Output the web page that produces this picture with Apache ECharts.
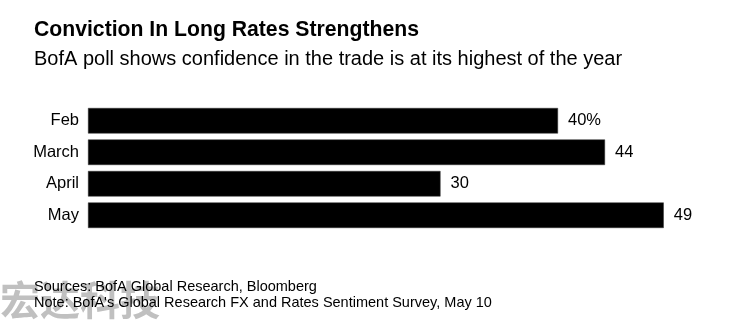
<!DOCTYPE html>
<html><head><meta charset="utf-8">
<script src="https://cdn.jsdelivr.net/npm/echarts@6/dist/echarts.min.js"></script>
<style>html,body{margin:0;padding:0;background:#fff}#c{width:755px;height:324px}</style>
</head><body><div id="c"></div>
<script>
const categories = ['Feb', 'March', 'April', 'May'];
const values = [40, 44, 30, 49];
const valueLabels = ['40%', '44', '30', '49'];
const titleText = 'Conviction In Long Rates Strengthens';
const subtitleText = 'BofA poll shows confidence in the trade is at its highest of the year';
const footerLines = ['Sources: BofA Global Research, Bloomberg', "Note: BofA's Global Research FX and Rates Sentiment Survey, May 10"];

const chart = echarts.init(document.getElementById('c'), null, {renderer: 'canvas'});
const F = '"Liberation Sans", Arial, sans-serif';
chart.setOption({
  animation: false,
  grid: {left: 88, top: 105, width: 587.5, height: 126},
  xAxis: {type: 'value', min: 0, max: 50, show: false},
  yAxis: {
    type: 'category', data: categories, inverse: true,
    axisLine: {show: false}, axisTick: {show: false},
    axisLabel: {color: '#000', fontFamily: F, fontSize: 16.5, margin: 9}
  },
  series: [{
    type: 'bar', data: values, barCategoryGap: '19%',
    itemStyle: {color: '#000', borderColor: '#333', borderWidth: 0.5},
    label: {show: true, position: 'right', distance: 10, color: '#000', fontFamily: F, fontSize: 16.5,
      formatter: p => valueLabels[p.dataIndex]}
  }],
  graphic: [
    {type: 'text', left: 34, top: 20, style: {text: titleText, fontFamily: F, fontWeight: 'bold', fontSize: 21.2, fill: '#000'}},
    {type: 'text', left: 34, top: 49, style: {text: subtitleText, fontFamily: F, fontSize: 20, fill: '#000'}},
    {type: 'text', left: 0, top: 280, z: 0, style: {text: '宏达科技', fontFamily: '"Noto Sans CJK SC"', fontWeight: 'bold', fontSize: 40, fill: 'rgba(150,150,150,0.6)'}},
    {type: 'text', left: 34, top: 279, z: 10, style: {text: footerLines[0], fontFamily: F, fontSize: 14.5, fill: '#000'}},
    {type: 'text', left: 34, top: 295, z: 10, style: {text: footerLines[1], fontFamily: F, fontSize: 14.5, fill: '#000'}}
  ]
});
</script></body></html>
